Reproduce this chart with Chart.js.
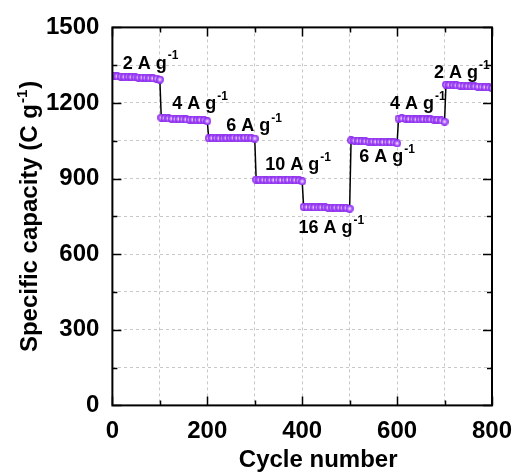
<!DOCTYPE html>
<html>
<head>
<meta charset="utf-8">
<script src="https://cdn.jsdelivr.net/npm/chart.js@4.4.0/dist/chart.umd.min.js"></script>
<style>
  html, body { margin: 0; padding: 0; background: #fff; }
</style>
</head>
<body>
<canvas id="rateChart" width="517" height="476"></canvas>
<script>
// cycle number of each plotted point (8 current-density steps of 100 cycles)
const cycles = [
  3, 10, 18, 25, 33, 40, 48, 55, 63, 70, 78, 85, 93, 100,
  103, 110, 118, 125, 133, 140, 148, 155, 163, 170, 178, 185, 193, 200,
  203, 210, 218, 225, 233, 240, 248, 255, 263, 270, 278, 285, 293, 300,
  303, 310, 318, 325, 333, 340, 348, 355, 363, 370, 378, 385, 393, 400,
  403, 410, 418, 425, 433, 440, 448, 455, 463, 470, 478, 485, 493, 500,
  503, 510, 518, 525, 533, 540, 548, 555, 563, 570, 578, 585, 593, 600,
  603, 610, 618, 625, 633, 640, 648, 655, 663, 670, 678, 685, 693, 700,
  703, 710, 718, 725, 733, 740, 748, 755, 763, 770, 778, 785, 793, 800
];

// specific capacity (C g-1)
const capacity = [
  1308, 1306, 1305, 1304, 1304, 1303, 1302, 1301, 1301, 1300, 1299, 1298, 1297, 1293,
  1142, 1140, 1139, 1138, 1137, 1137, 1136, 1135, 1134, 1134, 1133, 1133, 1132, 1128,
  1060, 1061, 1061, 1060, 1060, 1061, 1061, 1062, 1061, 1061, 1062, 1062, 1061, 1059,
  896, 895, 895, 894, 894, 894, 895, 894, 894, 895, 895, 894, 893, 889,
  788, 787, 787, 786, 786, 786, 786, 785, 785, 785, 785, 784, 784, 781,
  1052, 1051, 1050, 1049, 1048, 1047, 1047, 1046, 1046, 1045, 1045, 1045, 1044, 1040,
  1138, 1139, 1138, 1137, 1136, 1135, 1135, 1136, 1135, 1135, 1134, 1133, 1131, 1126,
  1273, 1272, 1271, 1270, 1269, 1268, 1267, 1266, 1266, 1265, 1264, 1263, 1262, 1259
];

const xTicks = [0, 200, 400, 600, 800];
const yTicks = [0, 300, 600, 900, 1200, 1500];

// current density annotations, anchored at (cycle, capacity)
const rateLabels = ["2 A g", "4 A g", "6 A g", "10 A g", "16 A g", "6 A g", "4 A g", "2 A g"];
const rateLabelX = [22, 126, 240, 322, 392, 520, 585, 678];
const rateLabelY = [1360, 1199, 1113, 958, 707, 990, 1199, 1321];

const FONT = "'Liberation Sans', Arial, Helvetica, sans-serif";

// shaded purple ball used as point marker
function makeBall() {
  const c = document.createElement("canvas");
  c.width = 8;
  c.height = 8;
  const g = c.getContext("2d");
  const grad = g.createRadialGradient(4, 4, 0.3, 4, 4, 4);
  grad.addColorStop(0, "#f3e6ff");
  grad.addColorStop(0.35, "#c083ff");
  grad.addColorStop(0.75, "#9a36f7");
  grad.addColorStop(1, "#7c1ee2");
  g.fillStyle = grad;
  g.beginPath();
  g.arc(4, 4, 3.9, 0, Math.PI * 2);
  g.fill();
  return c;
}

// draws text followed by a superscript "-1"
function drawSupText(ctx, text, x, y, size, supSize) {
  ctx.font = "bold " + size + "px " + FONT;
  ctx.fillText(text, x, y);
  const w = ctx.measureText(text).width;
  ctx.font = "bold " + supSize + "px " + FONT;
  ctx.fillText("-1", x + w + 1, y - size * 0.42);
}

const framePlugin = {
  id: "framePlugin",
  afterDraw(chart) {
    const ctx = chart.ctx;
    const a = chart.chartArea;
    const xs = chart.scales.x;
    const ys = chart.scales.y;
    ctx.save();
    ctx.strokeStyle = "#000";
    ctx.fillStyle = "#000";

    // inward ticks on all four sides
    ctx.lineWidth = 1.5;
    ctx.beginPath();
    xs.ticks.forEach((t) => {
      const px = Math.round(xs.getPixelForValue(t.value)) + 0.5;
      const len = xTicks.includes(t.value) ? 9 : 5;
      ctx.moveTo(px, a.bottom);
      ctx.lineTo(px, a.bottom - len);
      ctx.moveTo(px, a.top);
      ctx.lineTo(px, a.top + len);
    });
    ys.ticks.forEach((t) => {
      const py = Math.round(ys.getPixelForValue(t.value)) + 0.5;
      const len = yTicks.includes(t.value) ? 9 : 5;
      ctx.moveTo(a.left, py);
      ctx.lineTo(a.left + len, py);
      ctx.moveTo(a.right, py);
      ctx.lineTo(a.right - len, py);
    });
    ctx.stroke();

    // frame
    ctx.lineWidth = 2;
    ctx.strokeRect(a.left, a.top, a.right - a.left, a.bottom - a.top);

    // rate labels
    ctx.textBaseline = "middle";
    ctx.textAlign = "left";
    rateLabels.forEach((txt, i) => {
      const px = xs.getPixelForValue(rateLabelX[i]);
      const py = ys.getPixelForValue(rateLabelY[i]) + 1;
      drawSupText(ctx, txt, px, py, 18, 12);
    });

    // x axis title, sits a bit right of the plot centre in the original
    ctx.textAlign = "center";
    ctx.font = "bold 24px " + FONT;
    ctx.fillText("Cycle number", (a.left + a.right) / 2 + 16, a.bottom + 55);

    // y axis title, rotated, with superscript
    ctx.textAlign = "left";
    ctx.translate(37, (a.top + a.bottom) / 2);
    ctx.rotate(-Math.PI / 2);
    ctx.textBaseline = "alphabetic";
    const main = "Specific capacity (C g";
    ctx.font = "bold 24px " + FONT;
    const w1 = ctx.measureText(main).width;
    ctx.font = "bold 15px " + FONT;
    const w2 = ctx.measureText("-1").width;
    ctx.font = "bold 24px " + FONT;
    const w3 = ctx.measureText(")").width;
    let x0 = -(w1 + w2 + w3 + 2) / 2;
    ctx.fillText(main, x0, 0);
    ctx.font = "bold 15px " + FONT;
    ctx.fillText("-1", x0 + w1 + 1, -10);
    ctx.font = "bold 24px " + FONT;
    ctx.fillText(")", x0 + w1 + w2 + 2, 0);
    ctx.restore();
  },
};

const ball = makeBall();
const points = cycles.map((c, i) => ({ x: c, y: capacity[i] }));

new Chart(document.getElementById("rateChart").getContext("2d"), {
  type: "scatter",
  data: {
    datasets: [
      {
        data: points,
        showLine: true,
        borderColor: "#000",
        borderWidth: 1.5,
        pointStyle: ball,
        pointRadius: 4,
        pointHoverRadius: 4,
      },
    ],
  },
  options: {
    responsive: false,
    animation: false,
    events: [],
    layout: { padding: { left: 33, right: 25, top: 26, bottom: 1 } },
    plugins: {
      legend: { display: false },
      tooltip: { enabled: false },
    },
    scales: {
      x: {
        type: "linear",
        min: 0,
        max: 800,
        // let the "800" label overhang the right margin like the original
        afterFit: (scale) => {
          scale.paddingRight = 0;
        },
        grid: { color: "#c8c8c8", lineWidth: 1, drawTicks: false },
        border: { display: false, dash: [3, 3] },
        ticks: {
          stepSize: 100,
          padding: 12,
          maxRotation: 0,
          autoSkip: false,
          color: "#000",
          font: { family: FONT, size: 24, weight: "bold" },
          callback: (v) => (xTicks.includes(v) ? v : ""),
        },
        // keeps the room for the title; the text itself is drawn by framePlugin
        title: {
          display: true,
          text: "Cycle number",
          color: "rgba(0,0,0,0)",
          font: { family: FONT, size: 24, weight: "bold" },
          padding: { top: -12, bottom: 0 },
        },
      },
      y: {
        min: 0,
        max: 1500,
        grid: { color: "#c8c8c8", lineWidth: 1, drawTicks: false },
        border: { display: false, dash: [3, 3] },
        ticks: {
          stepSize: 150,
          padding: 13,
          autoSkip: false,
          color: "#000",
          font: { family: FONT, size: 24, weight: "bold" },
          callback: (v) => (yTicks.includes(v) ? v : ""),
        },
      },
    },
  },
  plugins: [framePlugin],
});
</script>
</body>
</html>
